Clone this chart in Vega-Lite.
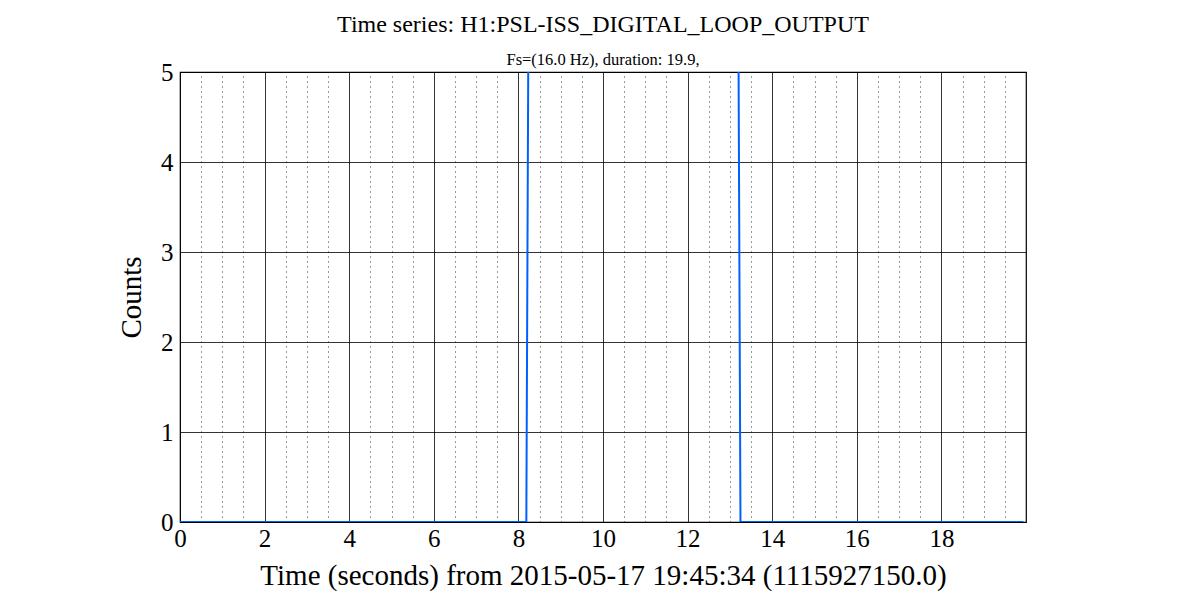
{
  "$schema": "https://vega.github.io/schema/vega-lite/v6.json",
  "autosize": "none",
  "width": 846,
  "height": 450,
  "padding": {"left": 180, "top": 72, "right": 174, "bottom": 78},
  "background": "white",
  "title": {
    "text": "Time series:  H1:PSL-ISS_DIGITAL_LOOP_OUTPUT",
    "subtitle": "Fs=(16.0 Hz), duration: 19.9,",
    "frame": "group",
    "font": "Liberation Serif",
    "fontSize": 24,
    "fontWeight": "normal",
    "subtitleFont": "Liberation Serif",
    "subtitleFontSize": 16.5,
    "subtitlePadding": 15,
    "offset": -8,
    "color": "black",
    "subtitleColor": "black"
  },
  "config": {
    "view": {"stroke": "black", "strokeWidth": 1.2},
    "axis": {
      "labelFont": "Liberation Serif",
      "titleFont": "Liberation Serif",
      "labelColor": "black",
      "titleColor": "black",
      "titleFontWeight": "normal",
      "domain": false
    }
  },
  "data": {
    "values": [
      {"t": 0, "counts": 0},
      {"t": 4.0, "counts": 0},
      {"t": 8.1875, "counts": 0},
      {"t": 8.25, "counts": 7},
      {"t": 10.0, "counts": 7},
      {"t": 13.1875, "counts": 7},
      {"t": 13.25, "counts": 0},
      {"t": 16.0, "counts": 0},
      {"t": 19.9375, "counts": 0}
    ]
  },
  "layer": [
    {
      "mark": {"type": "line", "clip": true, "color": "#0060ff", "strokeWidth": 2},
      "encoding": {
        "x": {
          "field": "t",
          "type": "quantitative",
          "scale": {"domain": [0, 20], "nice": false, "zero": false},
          "axis": {
            "values": [0, 2, 4, 6, 8, 10, 12, 14, 16, 18],
            "title": "Time (seconds) from 2015-05-17 19:45:34 (1115927150.0)",
            "titleFontSize": 29,
            "titlePadding": 10,
            "labelFontSize": 25,
            "labelPadding": 4,
            "ticks": false,
            "grid": true,
            "gridColor": "black",
            "gridWidth": 0.8,
            "gridOpacity": 1,
            "labelFlush": false
          }
        },
        "y": {
          "field": "counts",
          "type": "quantitative",
          "scale": {"domain": [0, 5], "nice": false},
          "axis": {
            "values": [0, 1, 2, 3, 4, 5],
            "title": "Counts",
            "titleFontSize": 29,
            "titlePadding": 14,
            "labelFontSize": 25,
            "labelPadding": 7,
            "ticks": false,
            "grid": true,
            "gridColor": "black",
            "gridWidth": 0.8,
            "gridOpacity": 1,
            "labelFlush": false
          }
        }
      }
    },
    {
      "mark": {"type": "point", "opacity": 0},
      "encoding": {
        "x": {
          "field": "t",
          "type": "quantitative",
          "axis": {
            "orient": "bottom",
            "values": [0.5, 1, 1.5, 2.5, 3, 3.5, 4.5, 5, 5.5, 6.5, 7, 7.5, 8.5, 9, 9.5, 10.5, 11, 11.5, 12.5, 13, 13.5, 14.5, 15, 15.5, 16.5, 17, 17.5, 18.5, 19, 19.5],
            "labels": false,
            "ticks": false,
            "title": null,
            "grid": true,
            "gridColor": "black",
            "gridWidth": 0.8,
            "gridDash": [1, 4],
            "gridOpacity": 1
          }
        }
      }
    }
  ],
  "resolve": {"axis": {"x": "independent"}}
}
